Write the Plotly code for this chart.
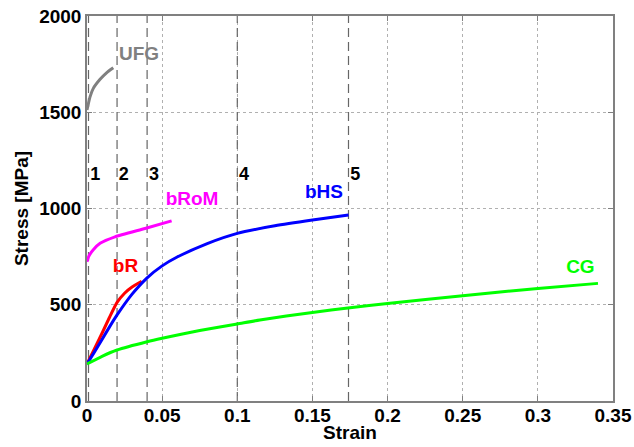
import plotly.graph_objects as go

# Data
ufg_x = [0.0, 0.002, 0.0042, 0.0087, 0.013, 0.0175]
ufg_y = [1512, 1580, 1624, 1671, 1705, 1731]

brom_x = [0.0, 0.001, 0.002, 0.0042, 0.0087, 0.0186, 0.0386, 0.0563]
brom_y = [723, 748, 763, 786, 819, 853, 896, 936]

br_x = [0.0, 0.005, 0.010, 0.015, 0.020, 0.025, 0.030, 0.0364]
br_y = [192, 272, 352, 435, 512, 560, 592, 622]

bhs_x = [0.0, 0.005, 0.010, 0.015, 0.020, 0.030, 0.040, 0.050, 0.060, 0.080, 0.100, 0.125, 0.150, 0.174]
bhs_y = [192, 255, 320, 385, 447, 555, 640, 702, 748, 818, 871, 910, 940, 966]

cg_x = [0.0, 0.01, 0.02, 0.04, 0.05, 0.075, 0.10, 0.115, 0.15, 0.175, 0.20, 0.25, 0.30, 0.34]
cg_y = [192, 232, 265, 308, 326, 366, 400, 421, 460, 485, 507, 547, 585, 611]

stage_x = [0.001, 0.02, 0.04, 0.1, 0.174]
stage_labels = ["1", "2", "3", "4", "5"]
stage_label_y = 1170

curve_names = ["UFG", "bRoM", "bR", "bHS", "CG"]
curve_colors = ["#808080", "#ff00ff", "#ff0000", "#0000ff", "#00ff00"]
label_x = [0.0346, 0.0699, 0.0256, 0.1577, 0.3283]
label_y = [1795, 1044, 697, 1080, 692]

x_ticks = [0, 0.05, 0.1, 0.15, 0.2, 0.25, 0.3, 0.35]
x_tick_text = ["0", "0.05", "0.1", "0.15", "0.2", "0.25", "0.3", "0.35"]
y_ticks = [0, 500, 1000, 1500, 2000]

FONT = "Liberation Sans, Arial, sans-serif"

fig = go.Figure()

# stage dashed lines
for sx in stage_x:
    fig.add_trace(go.Scatter(x=[sx, sx], y=[0, 2000], mode="lines",
                             line=dict(color="#666666", width=1.2, dash="9px,5px"),
                             showlegend=False, hoverinfo="skip"))

curves = [(ufg_x, ufg_y), (brom_x, brom_y), (br_x, br_y), (bhs_x, bhs_y), (cg_x, cg_y)]
for (cx, cy), name, col in zip(curves, curve_names, curve_colors):
    fig.add_trace(go.Scatter(x=cx, y=cy, mode="lines", name=name,
                             line=dict(color=col, width=3, shape="spline", smoothing=0.5),
                             showlegend=False))

# curve labels
fig.add_trace(go.Scatter(x=label_x, y=label_y, mode="text", text=curve_names,
                         textposition="middle center",
                         textfont=dict(family=FONT, size=19, color=curve_colors, weight="bold"),
                         showlegend=False, hoverinfo="skip"))

# stage labels
fig.add_trace(go.Scatter(x=[s + 0.0012 for s in stage_x], y=[stage_label_y] * len(stage_x),
                         mode="text", text=stage_labels, textposition="middle right",
                         textfont=dict(family=FONT, size=18, color="black", weight="bold"),
                         showlegend=False, hoverinfo="skip"))

axis_common = dict(showline=True, linecolor="#808080", linewidth=1.5, mirror="ticks",
                   ticks="inside", ticklen=5, tickcolor="#808080",
                   showgrid=True, gridcolor="#b0b0b0", griddash="dot", gridwidth=1,
                   zeroline=False, automargin=False,
                   tickfont=dict(family=FONT, size=19, color="black", weight="bold"))

fig.update_xaxes(range=[0, 0.35], tickvals=x_ticks, ticktext=x_tick_text,
                 ticklabelstandoff=-4, **axis_common)
fig.update_yaxes(range=[0, 2000], tickvals=y_ticks,
                 title=dict(text="Stress [MPa]", standoff=6,
                            font=dict(family=FONT, size=19, color="black", weight="bold")),
                 **axis_common)

fig.add_annotation(text="Strain", xref="paper", yref="paper", x=0.5, y=-0.082,
                   xanchor="center", yanchor="middle", showarrow=False,
                   font=dict(family=FONT, size=19, color="black", weight="bold"))

fig.update_layout(width=634, height=447, margin=dict(l=87, r=21, t=16, b=46),
                  plot_bgcolor="white", paper_bgcolor="white")

fig.write_html("out.html")
